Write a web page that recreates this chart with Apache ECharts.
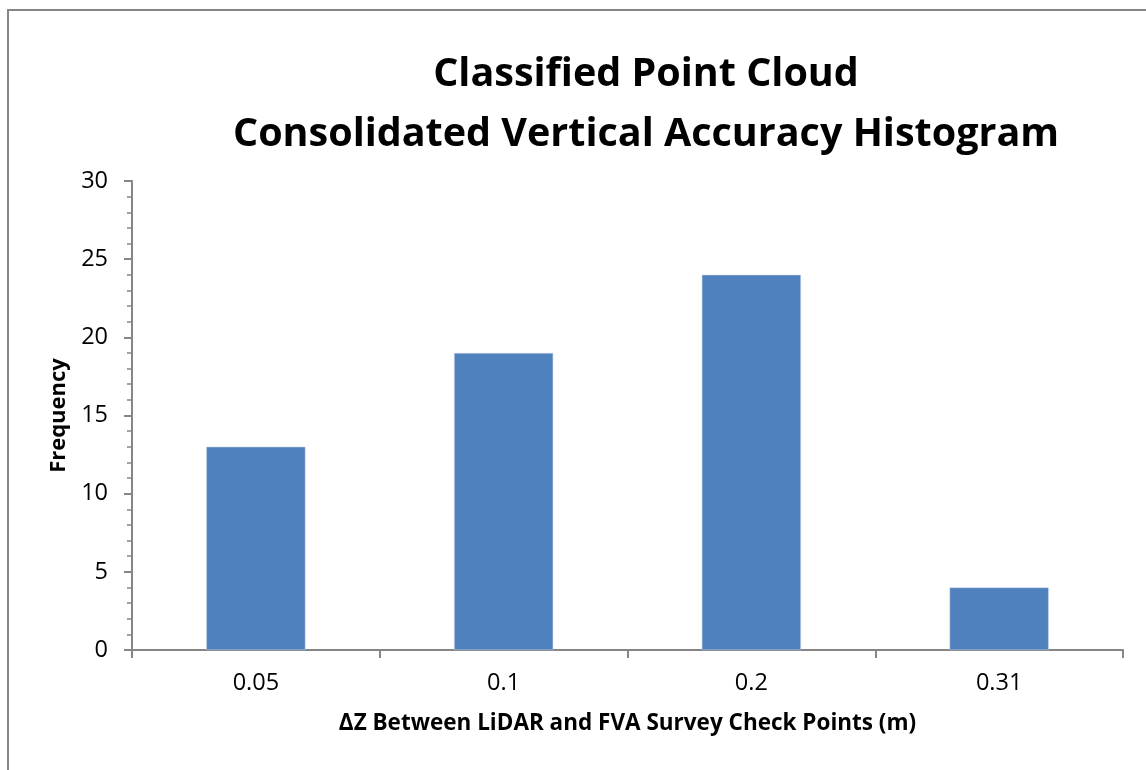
<!DOCTYPE html>
<html>
<head>
<meta charset="utf-8">
<script src="https://cdn.jsdelivr.net/npm/echarts@6/dist/echarts.min.js"></script>
<style>
    html, body {margin: 0; padding: 0; background: #fff;}
    #frame {position: absolute; left: 7px; top: 9px; width: 1160px; height: 790px; border: 2px solid #868686; box-sizing: border-box;}
    #chart_box {position: absolute; left: 0; top: 0; width: 1146px; height: 770px;}
</style>
</head>
<body>
<div id="frame"></div>
<div id="chart_box"></div>
<script>
let dz_bins = ['0.05', '0.1', '0.2', '0.31'];
let freq_data = [13, 19, 24, 4];
let title_lines = ['Classified Point Cloud', 'Consolidated Vertical Accuracy Histogram'];

function data_chart(){
    let hist_box = echarts.init(document.getElementById('chart_box'));
    let axis_grey = '#868686';
    let hist_option = {
        animation: false,
        color: ['#4f81bd'],
        title: {
            text: title_lines.join('\n'),
            left: 641, top: 40,
            textAlign: 'center',
            textStyle: {fontFamily: 'Open Sans', fontWeight: 'bold', fontSize: 39.5, lineHeight: 60, color: '#000'}
        },
        grid: {
            left: 132, right: 23,
            top: 181, bottom: 120,
            containLabel: false
        },
        xAxis: [
            {
                type: 'category',
                data: dz_bins,
                name: 'ΔZ Between LiDAR and FVA Survey Check Points (m)',
                nameLocation: 'middle',
                nameGap: 62,
                nameTextStyle: {fontFamily: 'Open Sans', fontWeight: 'bold', fontSize: 22.5, color: '#000'},
                axisLabel: {fontFamily: 'Open Sans', fontSize: 23.5, color: '#000', margin: 21},
                axisLine: {lineStyle: {color: axis_grey, width: 2}},
                axisTick: {show: true, length: 8, lineStyle: {color: axis_grey, width: 2}},
            },
        ],
        yAxis: [
            {
                type: 'value',
                min: 0, max: 30, interval: 5,
                name: 'Frequency',
                nameLocation: 'middle',
                nameGap: 59,
                nameTextStyle: {fontFamily: 'Open Sans', fontWeight: 'bold', fontSize: 22, color: '#000'},
                axisLabel: {fontFamily: 'Open Sans', fontSize: 23.5, color: '#000', margin: 24},
                axisLine: {show: true, lineStyle: {color: axis_grey, width: 2}},
                axisTick: {show: true, length: 8, lineStyle: {color: axis_grey, width: 2}},
                minorTick: {show: true, splitNumber: 5, length: 5, lineStyle: {color: axis_grey, width: 1.5}},
                splitLine: {show: false},
            },
        ],
        series: [
            {
                name: 'Frequency',
                type: 'bar',
                data: freq_data,
                barWidth: '40%',
                itemStyle: {borderColor: '#c5d7ee', borderWidth: 0.5},
            }
        ]
    };
    hist_box.setOption(hist_option);
    window.onresize = hist_box.resize;
}

data_chart();
</script>
</body>
</html>
